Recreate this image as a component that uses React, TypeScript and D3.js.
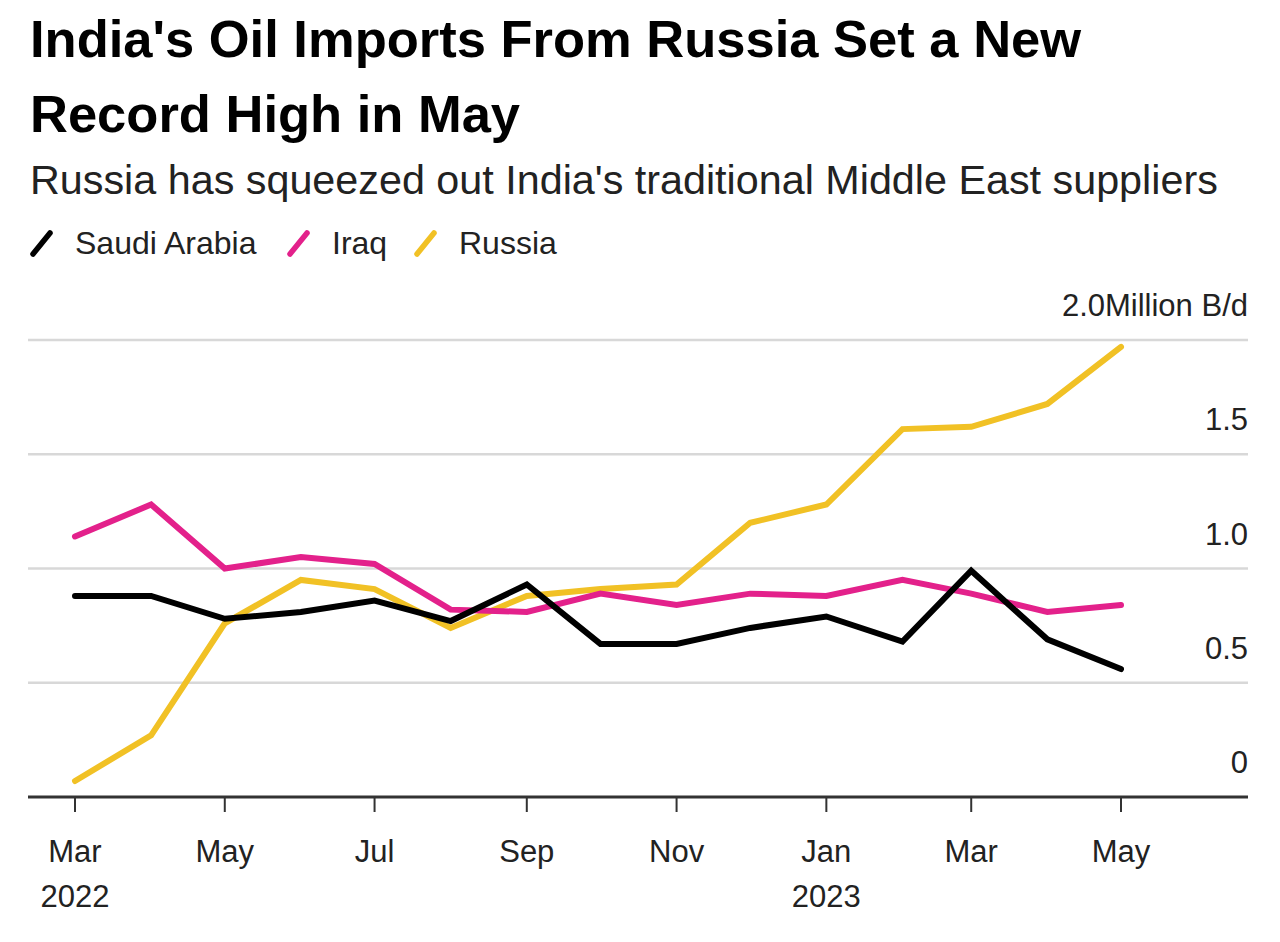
import * as d3 from "d3";

const months = [
  "2022-03", "2022-04", "2022-05", "2022-06", "2022-07", "2022-08", "2022-09", "2022-10",
  "2022-11", "2022-12", "2023-01", "2023-02", "2023-03", "2023-04", "2023-05",
];
const saudiArabia = [0.88, 0.88, 0.78, 0.81, 0.86, 0.77, 0.93, 0.67, 0.67, 0.74, 0.79, 0.68, 0.99, 0.69, 0.56];
const iraq = [1.14, 1.28, 1.0, 1.05, 1.02, 0.82, 0.81, 0.89, 0.84, 0.89, 0.88, 0.95, 0.89, 0.81, 0.84];
const russia = [0.07, 0.27, 0.76, 0.95, 0.91, 0.74, 0.88, 0.91, 0.93, 1.2, 1.28, 1.61, 1.62, 1.72, 1.97];

const yTicks = [0, 0.5, 1.0, 1.5, 2.0];
const xTickMonths = ["2022-03", "2022-05", "2022-07", "2022-09", "2022-11", "2023-01", "2023-03", "2023-05"];

const series = [
  { name: "Russia", values: russia, color: "#f1c125" },
  { name: "Iraq", values: iraq, color: "#e3218b" },
  { name: "Saudi Arabia", values: saudiArabia, color: "#000000" },
];
const legendOrder = ["Saudi Arabia", "Iraq", "Russia"];

const font = "'Liberation Sans', Arial, Helvetica, sans-serif";
const parse = d3.timeParse("%Y-%m");

export default function App() {
  const width = 1280,
    height = 942;
  const gridLeft = 28,
    gridRight = 1248;

  const dates = months.map((m) => parse(m) as Date);

  const x = d3
    .scaleTime()
    .domain([dates[0], dates[dates.length - 1]])
    .range([75, 1121]);

  const y = d3.scaleLinear().domain([0, 2]).range([797, 340]);

  const line = d3
    .line<number>()
    .x((_, i) => x(dates[i]))
    .y((d) => y(d));

  const legendX = [30, 287, 414];

  return (
    <svg
      width={width}
      height={height}
      style={{ position: "absolute", left: 0, top: 0, background: "#fff" }}
      fontFamily={font}
    >
      <rect width={width} height={height} fill="#fff" />
      <text x={30} y={57} fontSize={52.5} fontWeight="bold" fill="#000">
        India's Oil Imports From Russia Set a New
      </text>
      <text x={30} y={132} fontSize={52.5} fontWeight="bold" fill="#000">
        Record High in May
      </text>
      <text x={30} y={194} fontSize={41.3} fill="#222">
        Russia has squeezed out India's traditional Middle East suppliers
      </text>

      <g>
        {legendOrder.map((name, i) => {
          const s = series.find((d) => d.name === name)!;
          const lx = legendX[i];
          return (
            <g key={name}>
              <line
                x1={lx + 3}
                y1={254}
                x2={lx + 20}
                y2={233}
                stroke={s.color}
                strokeWidth={5.5}
                strokeLinecap="round"
              />
              <text x={lx + 45} y={254} fontSize={32} fill="#222">
                {name}
              </text>
            </g>
          );
        })}
      </g>

      <g>
        {yTicks
          .filter((t) => t > 0)
          .map((t) => (
            <line key={t} x1={gridLeft} x2={gridRight} y1={y(t)} y2={y(t)} stroke="#d8d8d8" strokeWidth={2.5} />
          ))}
        {yTicks.map((t) => (
          <text key={t} x={gridRight} y={y(t) - 24} fontSize={31} textAnchor="end" fill="#222">
            {t === 0 ? "0" : t === 2 ? "2.0Million B/d" : d3.format(".1f")(t)}
          </text>
        ))}
      </g>

      <g>
        {series.map((s) => (
          <path
            key={s.name}
            d={line(s.values) || ""}
            fill="none"
            stroke={s.color}
            strokeWidth={6}
            strokeLinejoin="miter"
            strokeLinecap="round"
          />
        ))}
      </g>

      <line x1={gridLeft} x2={gridRight} y1={y(0)} y2={y(0)} stroke="#333" strokeWidth={3} />
      <g>
        {xTickMonths.map((m) => {
          const d = parse(m) as Date;
          const tx = x(d);
          const showYear = d.getMonth() === 0 || m === months[0];
          return (
            <g key={m}>
              <line x1={tx} x2={tx} y1={y(0)} y2={y(0) + 15} stroke="#333" strokeWidth={2} />
              <text x={tx} y={862} fontSize={31} textAnchor="middle" fill="#222">
                {d3.timeFormat("%b")(d)}
              </text>
              {showYear && (
                <text x={tx} y={907} fontSize={31} textAnchor="middle" fill="#222">
                  {d3.timeFormat("%Y")(d)}
                </text>
              )}
            </g>
          );
        })}
      </g>
    </svg>
  );
}
